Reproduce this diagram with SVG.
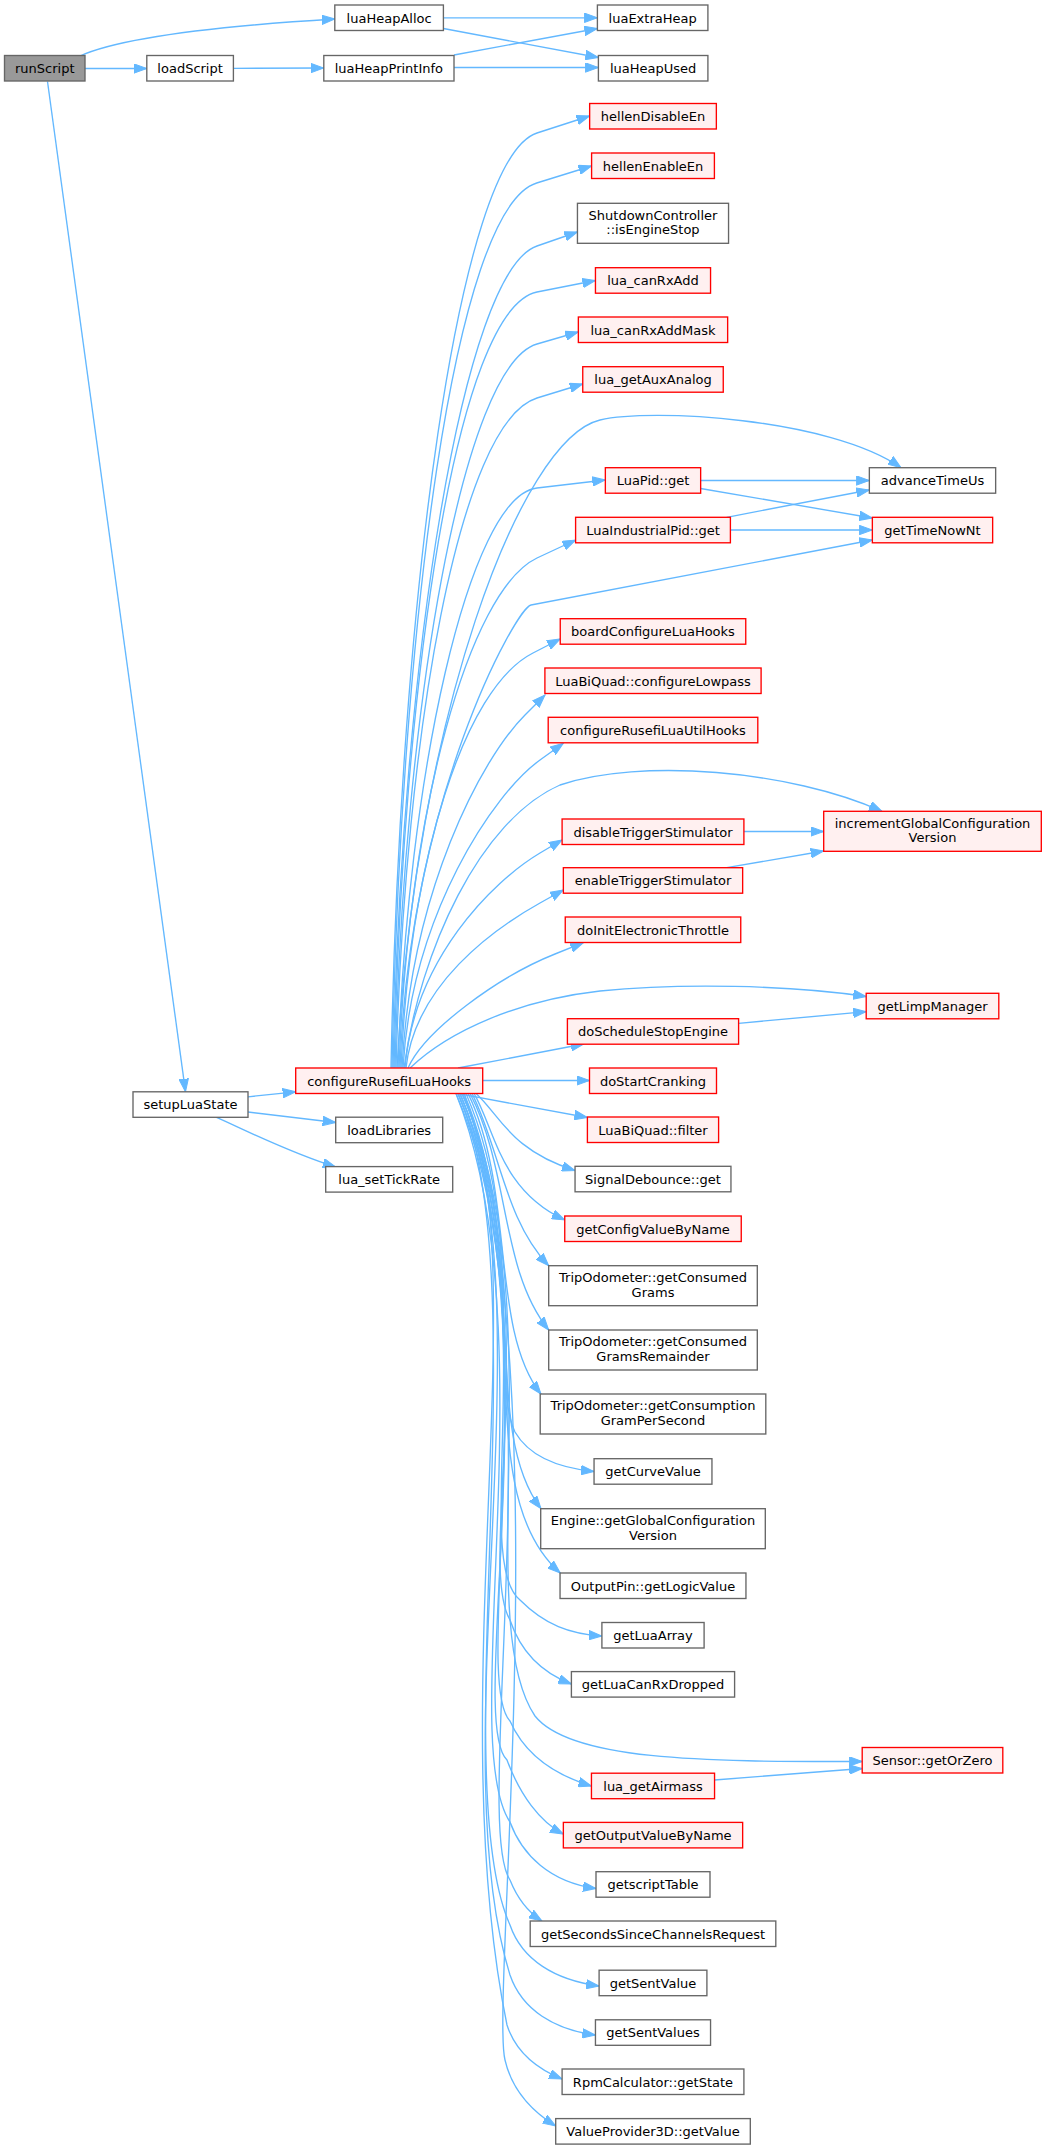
<svg xmlns="http://www.w3.org/2000/svg" width="1047" height="2149" viewBox="0 0 1047 2149">
<style>
.n rect{fill:#ffffff;stroke:#666666;stroke-width:1.35}
.r rect{fill:#fff0f0;stroke:#ff0000;stroke-width:1.35}
.g rect{fill:#999999;stroke:#666666;stroke-width:1.35}
text{font-family:"DejaVu Sans","Liberation Sans",sans-serif;font-size:13px;text-anchor:middle;fill:#000000}
#edges path{fill:none;stroke:#63b8ff;stroke-width:1.35;marker-end:url(#a)}
</style>
<defs>
<marker id="a" markerUnits="userSpaceOnUse" markerWidth="14" markerHeight="10" refX="13" refY="5" orient="auto">
<path d="M0,0.3 L13,5 L0,9.7 z" fill="#63b8ff" stroke="#63b8ff" stroke-width="1"/>
</marker>
</defs>
<rect width="1047" height="2149" fill="#ffffff"/>
<g id="edges">
<path d="M80,56 C120,38 220,26 334.8,19"/>
<path d="M85,68.5 L146.8,68.5"/>
<path d="M47.5,81.5 L185.5,1091.8"/>
<path d="M233.4,68.3 L323.8,68"/>
<path d="M443.4,17.8 L597.4,17.8"/>
<path d="M443.4,28.5 L598.4,57.5"/>
<path d="M454,55 L597.4,28.5"/>
<path d="M454,67.5 L598.4,67.5"/>
<path d="M248,1096.8 L295.7,1091.8"/>
<path d="M248,1112 L335.7,1122.5"/>
<path d="M216,1117.2 C245,1130 290,1153 335.7,1167"/>
<path d="M391,1068 C400,600 458,158.5 537,133 L589.6,116"/>
<path d="M392,1068 C401,625.5 454,208.5 536.7,183 L591.6,166"/>
<path d="M393,1068 C402,657 463,271 537,246 L577.4,232"/>
<path d="M394,1068 C403,680 456,309 537,292 L595.4,280.5"/>
<path d="M395,1068 C404,706 463,365.6 537,344 L578.3,332"/>
<path d="M396,1068 C405,733 459,422 537,398 L582.7,384"/>
<path d="M397,1068 C415,720 520,439 600,420 C650,408 830,418 901,467.7"/>
<path d="M398,1068 C407,778 468.7,496 537,488 L605.3,480"/>
<path d="M399,1068 C408,813 468.6,590.4 537,558 L575.6,540"/>
<path d="M400,1068 C409,800 516.3,607.9 531,605 L872.3,540"/>
<path d="M401,1068 C410,860.5 463.75,688 533,653 L560.2,639"/>
<path d="M402,1068 C411,891.5 481,759 525,715 L545,695"/>
<path d="M403,1068 C412,914 493.4,793.4 540,760 L563.3,743.3"/>
<path d="M404,1068 C420,950 480,820 560,785 C640,758 790,770 882,811.3"/>
<path d="M405,1068 C414,960 492,881.6 540,853 L562,840"/>
<path d="M406,1068 C415,985 493.4,929 540,903 L563.3,890"/>
<path d="M408,1068 C425,1030 498.4,976.6 555,954 L583.3,942.7"/>
<path d="M410,1068 C450,1030 520,1000 600,991 C680,983 790,985 866.2,996.5"/>
<path d="M458,1068 L583.7,1044"/>
<path d="M482.7,1080.5 L589.5,1080.5"/>
<path d="M457,1093.4 L587.4,1117.5"/>
<path d="M476,1093.4 C500,1115 510,1150 575,1170.5"/>
<path d="M474,1093.4 C495,1130 500,1190 564.7,1220"/>
<path d="M472,1093.4 C500,1150 505,1220 548.7,1265.7"/>
<path d="M470,1093.4 C510,1170 500,1270 548.7,1330"/>
<path d="M468,1093.4 C515,1190 490,1330 541,1394"/>
<path d="M466,1093.4 C525,1230 490,1380 515,1432 C530,1458 560,1468 594,1471.5"/>
<path d="M464,1093.4 C530,1250 480,1430 541,1508.7"/>
<path d="M462,1093.4 C540,1270 465,1490 560.3,1573"/>
<path d="M460,1093.4 C545,1300 470,1560 520,1600 C545,1625 570,1634 601.8,1636"/>
<path d="M460,1093.4 C550,1300 475,1560 510,1620 C520,1650 540,1672 571.4,1684"/>
<path d="M462,1093.4 C555,1300 470,1620 535,1716 C570,1760 700,1762 862.2,1761.5"/>
<path d="M458,1093.4 C550,1310 470,1680 510,1721 C525,1755 555,1775 591.4,1786"/>
<path d="M458,1093.4 C555,1320 465,1720 507,1760 C520,1795 540,1822 563.3,1834"/>
<path d="M456,1093.4 C550,1330 455,1740 510,1822 C522,1855 550,1882 596,1888.5"/>
<path d="M456,1093.4 C560,1330 470,1820 510,1880 C518,1900 528,1912 541.9,1921"/>
<path d="M458,1093.4 C540,1280 445,1780 510,1925 C522,1960 555,1980 599.1,1986"/>
<path d="M460,1093.4 C550,1300 440,1750 510,1975 C522,2010 555,2030 595.4,2035"/>
<path d="M462,1093.4 C540,1250 440,1700 507,2025 C515,2050 535,2068 562.1,2079"/>
<path d="M464,1093.4 C560,1360 490,2000 505,2060 C512,2090 530,2110 555.7,2126"/>
<path d="M700.6,480.5 L869.3,480.5"/>
<path d="M700.6,488.5 L872.3,518"/>
<path d="M726.7,517.3 L869.3,490"/>
<path d="M730.4,530 L872.3,530"/>
<path d="M743.9,831.5 L823.7,831.5"/>
<path d="M726.7,867.7 L823.7,851"/>
<path d="M738.6,1023.3 L866.2,1011.7"/>
<path d="M714.5,1780 L862.2,1768.5"/>
</g>
<g id="runScript" class="g"><rect x="4.5" y="55.5" width="80.5" height="25.5"/><text x="44.75" y="73">runScript</text></g>
<g id="loadScript" class="n"><rect x="146.8" y="55.5" width="86.6" height="25.5"/><text x="190.1" y="73">loadScript</text></g>
<g id="luaHeapAlloc" class="n"><rect x="334.8" y="5" width="108.6" height="25.5"/><text x="389.1" y="22.5">luaHeapAlloc</text></g>
<g id="luaHeapPrintInfo" class="n"><rect x="323.8" y="55.5" width="130.2" height="25.5"/><text x="388.9" y="73">luaHeapPrintInfo</text></g>
<g id="luaExtraHeap" class="n"><rect x="597.4" y="5" width="110.5" height="25.5"/><text x="652.65" y="22.5">luaExtraHeap</text></g>
<g id="luaHeapUsed" class="n"><rect x="598.4" y="55.5" width="109.5" height="25.5"/><text x="653.15" y="73">luaHeapUsed</text></g>
<g id="setupLuaState" class="n"><rect x="133" y="1091.8" width="115" height="25.5"/><text x="190.5" y="1109.3">setupLuaState</text></g>
<g id="configureRusefiLuaHooks" class="r"><rect x="295.7" y="1068" width="187" height="25.5"/><text x="389.2" y="1085.5">configureRusefiLuaHooks</text></g>
<g id="loadLibraries" class="n"><rect x="335.7" y="1117.2" width="107" height="25.5"/><text x="389.2" y="1134.7">loadLibraries</text></g>
<g id="lua_setTickRate" class="n"><rect x="325.7" y="1166.6" width="127" height="25.5"/><text x="389.2" y="1184.1">lua_setTickRate</text></g>
<g id="hellenDisableEn" class="r"><rect x="589.65" y="103.5" width="126.7" height="25.5"/><text x="653" y="121">hellenDisableEn</text></g>
<g id="hellenEnableEn" class="r"><rect x="591.6" y="153" width="122.8" height="25.5"/><text x="653" y="170.5">hellenEnableEn</text></g>
<g id="isEngineStop" class="n"><rect x="577.45" y="203.3" width="151.1" height="40"/><text x="653" y="219.5">ShutdownController</text><text x="653" y="234.2">::isEngineStop</text></g>
<g id="lua_canRxAdd" class="r"><rect x="595.45" y="267.7" width="115.1" height="25.5"/><text x="653" y="285.2">lua_canRxAdd</text></g>
<g id="lua_canRxAddMask" class="r"><rect x="578.35" y="317" width="149.3" height="25.5"/><text x="653" y="334.5">lua_canRxAddMask</text></g>
<g id="lua_getAuxAnalog" class="r"><rect x="582.75" y="366.7" width="140.5" height="25.5"/><text x="653" y="384.2">lua_getAuxAnalog</text></g>
<g id="LuaPid_get" class="r"><rect x="605.35" y="467.7" width="95.3" height="25.5"/><text x="653" y="485.2">LuaPid::get</text></g>
<g id="LuaIndustrialPid_get" class="r"><rect x="575.6" y="517.3" width="154.8" height="25.5"/><text x="653" y="534.8">LuaIndustrialPid::get</text></g>
<g id="boardConfigureLuaHooks" class="r"><rect x="560.25" y="618.7" width="185.5" height="25.5"/><text x="653" y="636.2">boardConfigureLuaHooks</text></g>
<g id="configureLowpass" class="r"><rect x="544.9" y="668" width="216.2" height="25.5"/><text x="653" y="685.5">LuaBiQuad::configureLowpass</text></g>
<g id="configureRusefiLuaUtilHooks" class="r"><rect x="548.2" y="717.3" width="209.6" height="25.5"/><text x="653" y="734.8">configureRusefiLuaUtilHooks</text></g>
<g id="disableTriggerStimulator" class="r"><rect x="562.1" y="819" width="181.8" height="25.5"/><text x="653" y="836.5">disableTriggerStimulator</text></g>
<g id="enableTriggerStimulator" class="r"><rect x="563.35" y="867.7" width="179.3" height="25.5"/><text x="653" y="885.2">enableTriggerStimulator</text></g>
<g id="doInitElectronicThrottle" class="r"><rect x="565.25" y="917" width="175.5" height="25.5"/><text x="653" y="934.5">doInitElectronicThrottle</text></g>
<g id="doScheduleStopEngine" class="r"><rect x="567.4" y="1018.7" width="171.2" height="25.5"/><text x="653" y="1036.2">doScheduleStopEngine</text></g>
<g id="doStartCranking" class="r"><rect x="589.5" y="1068" width="127" height="25.5"/><text x="653" y="1085.5">doStartCranking</text></g>
<g id="LuaBiQuad_filter" class="r"><rect x="587.4" y="1117" width="131.2" height="25.5"/><text x="653" y="1134.5">LuaBiQuad::filter</text></g>
<g id="SignalDebounce_get" class="n"><rect x="575.05" y="1166.3" width="155.9" height="25.5"/><text x="653" y="1183.8">SignalDebounce::get</text></g>
<g id="getConfigValueByName" class="r"><rect x="564.75" y="1216" width="176.5" height="25.5"/><text x="653" y="1233.5">getConfigValueByName</text></g>
<g id="getConsumedGrams" class="n"><rect x="548.7" y="1265.7" width="208.6" height="40"/><text x="653" y="1281.9">TripOdometer::getConsumed</text><text x="653" y="1296.6">Grams</text></g>
<g id="getConsumedGramsRemainder" class="n"><rect x="548.7" y="1330" width="208.6" height="40"/><text x="653" y="1346.2">TripOdometer::getConsumed</text><text x="653" y="1360.9">GramsRemainder</text></g>
<g id="getConsumptionGramPerSecond" class="n"><rect x="540.2" y="1394" width="225.6" height="40"/><text x="653" y="1410.2">TripOdometer::getConsumption</text><text x="653" y="1424.9">GramPerSecond</text></g>
<g id="getCurveValue" class="n"><rect x="594.05" y="1458.7" width="117.9" height="25.5"/><text x="653" y="1476.2">getCurveValue</text></g>
<g id="getGlobalConfigurationVersion" class="n"><rect x="540.7" y="1508.7" width="224.6" height="40"/><text x="653" y="1524.9">Engine::getGlobalConfiguration</text><text x="653" y="1539.6">Version</text></g>
<g id="getLogicValue" class="n"><rect x="560.05" y="1573" width="185.9" height="25.5"/><text x="653" y="1590.5">OutputPin::getLogicValue</text></g>
<g id="getLuaArray" class="n"><rect x="601.9" y="1622.5" width="102.2" height="25.5"/><text x="653" y="1640">getLuaArray</text></g>
<g id="getLuaCanRxDropped" class="n"><rect x="571.4" y="1671.6" width="163.2" height="25.5"/><text x="653" y="1689.1">getLuaCanRxDropped</text></g>
<g id="lua_getAirmass" class="r"><rect x="591.45" y="1773.2" width="123.1" height="25.5"/><text x="653" y="1790.7">lua_getAirmass</text></g>
<g id="getOutputValueByName" class="r"><rect x="563.35" y="1822.4" width="179.3" height="25.5"/><text x="653" y="1839.9">getOutputValueByName</text></g>
<g id="getscriptTable" class="n"><rect x="596" y="1871.7" width="114" height="25.5"/><text x="653" y="1889.2">getscriptTable</text></g>
<g id="getSecondsSinceChannelsRequest" class="n"><rect x="530.2" y="1921" width="245.6" height="25.5"/><text x="653" y="1938.5">getSecondsSinceChannelsRequest</text></g>
<g id="getSentValue" class="n"><rect x="599.1" y="1970.2" width="107.8" height="25.5"/><text x="653" y="1987.7">getSentValue</text></g>
<g id="getSentValues" class="n"><rect x="595.45" y="2019.8" width="115.1" height="25.5"/><text x="653" y="2037.3">getSentValues</text></g>
<g id="RpmCalculator_getState" class="n"><rect x="562.1" y="2069" width="181.8" height="25.5"/><text x="653" y="2086.5">RpmCalculator::getState</text></g>
<g id="ValueProvider3D_getValue" class="n"><rect x="555.7" y="2118.6" width="194.6" height="25.5"/><text x="653" y="2136.1">ValueProvider3D::getValue</text></g>
<g id="advanceTimeUs" class="n"><rect x="869.35" y="467.7" width="126.3" height="25.5"/><text x="932.5" y="485.2">advanceTimeUs</text></g>
<g id="getTimeNowNt" class="r"><rect x="872.35" y="517.3" width="120.3" height="25.5"/><text x="932.5" y="534.8">getTimeNowNt</text></g>
<g id="incrementGlobalConfigurationVersion" class="r"><rect x="823.7" y="811.3" width="217.6" height="40"/><text x="932.5" y="827.5">incrementGlobalConfiguration</text><text x="932.5" y="842.2">Version</text></g>
<g id="getLimpManager" class="r"><rect x="866.2" y="993.3" width="132.6" height="25.5"/><text x="932.5" y="1010.8">getLimpManager</text></g>
<g id="Sensor_getOrZero" class="r"><rect x="862.2" y="1747.5" width="140.6" height="25.5"/><text x="932.5" y="1765">Sensor::getOrZero</text></g>
</svg>
